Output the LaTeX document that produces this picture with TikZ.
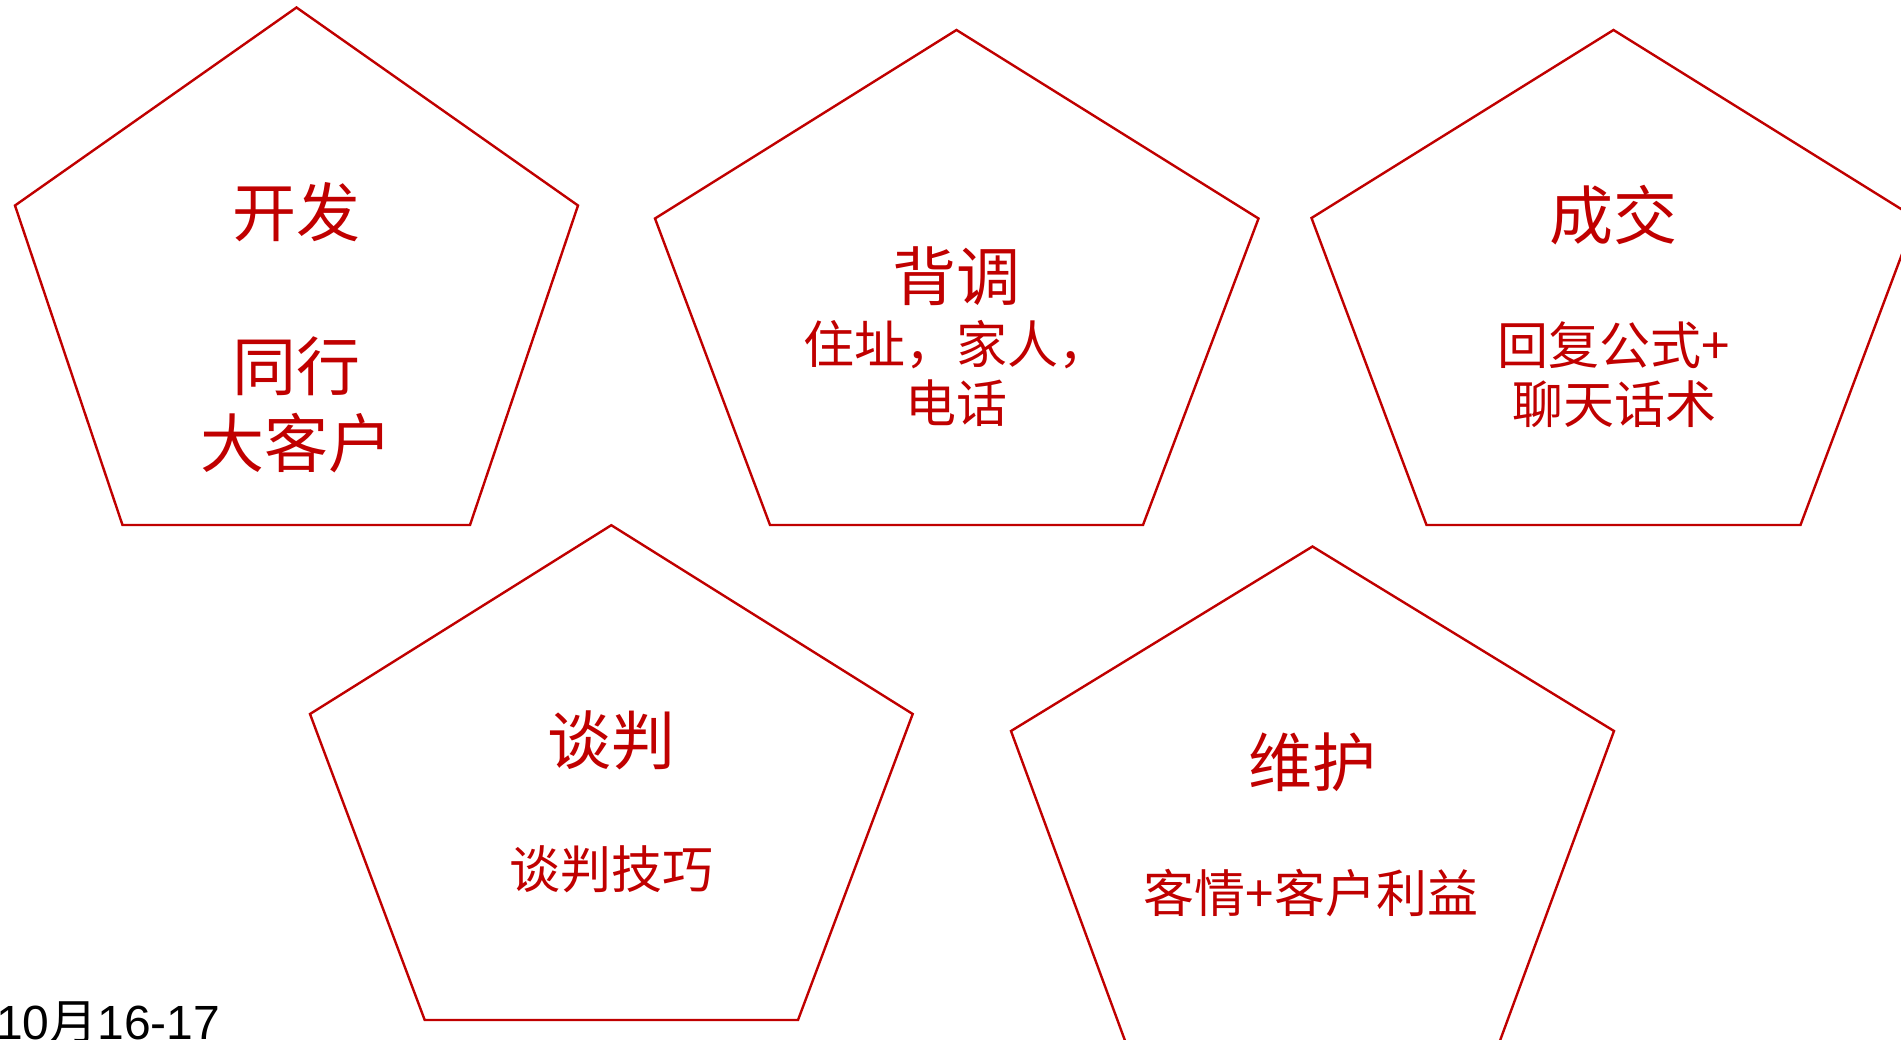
\documentclass[tikz,border=0pt]{standalone}
\usepackage{fontspec}
\setmainfont{Liberation Sans}
\newfontfamily\cjk{Noto Sans CJK SC}
\definecolor{pred}{RGB}{192,0,0}
\begin{document}
\begin{tikzpicture}[x=1pt,y=-1pt,
  pent/.style={draw=pred, line width=2.4pt, line join=miter},
  ttl/.style={text=pred, font=\cjk\fontsize{64}{77}\selectfont, align=center, inner sep=0pt},
  sub/.style={text=pred, font=\cjk\fontsize{51}{59}\selectfont, align=center, inner sep=0pt},
  datetxt/.style={text=black, font=\fontsize{48}{56}\selectfont, inner sep=0pt, anchor=base west}]
\useasboundingbox (0,0) rectangle (1901,1040);
% pentagons
\draw[pent] (296.5,7.5) -- (578,205.5) -- (470,525) -- (122.5,525) -- (15,205.5) -- cycle;
\draw[pent] (956.5,30) -- (1258.5,218.5) -- (1143,525) -- (770,525) -- (655,218.5) -- cycle;
\draw[pent] (1613.5,30) -- (1915.5,218) -- (1800.5,525) -- (1426.5,525) -- (1311.5,218) -- cycle;
\draw[pent] (611.3,525.2) -- (912.7,714) -- (798,1020) -- (424.7,1020) -- (310,714) -- cycle;
\draw[pent] (1312.5,546.5) -- (1614,731) -- (1499.5,1042) -- (1125.5,1042) -- (1011,731) -- cycle;
% texts
\node[ttl] (p1) at (296.5,327.5) {开发\\[77pt]同行\\大客户};
\node[ttl] (t2) at (956.5,276) {背调};
\node[sub] (s2) at (956.5,373.5) {住址，家人，\\电话};
\node[ttl] (t3) at (1613.5,215) {成交};
\node[sub] (s3) at (1614,375) {回复公式+\\聊天话术};
\node[ttl] (t4) at (611,740) {谈判};
\node[sub] (s4) at (611.5,869) {谈判技巧};
\node[ttl] (t5) at (1312,762) {维护};
\node[sub] (s5) at (1311,893.5) {客情+客户利益};
\node[datetxt] (date) at (-4,1039) {10{\cjk 月}16-17};
\end{tikzpicture}
\end{document}
